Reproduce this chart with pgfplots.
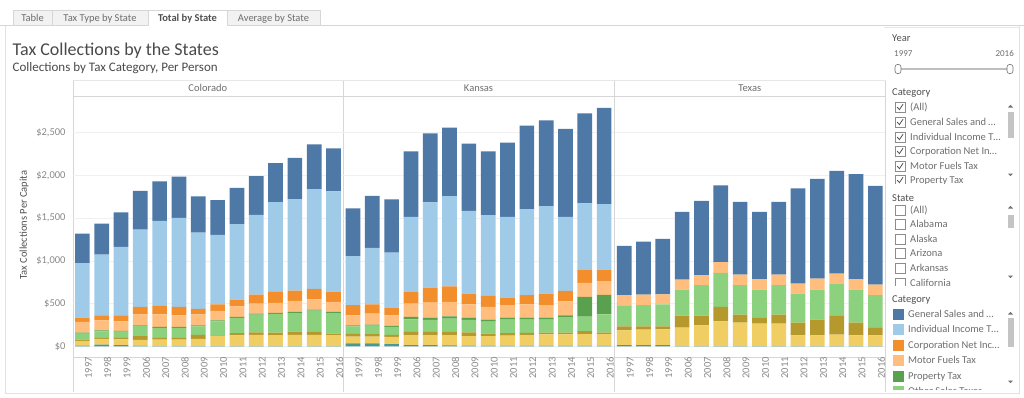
\documentclass[border=0pt]{standalone}
\usepackage{pgfplots}
\pgfplotsset{compat=1.18}
\usepackage{pgfplotstable}
\usepackage{fontspec}
\setmainfont{Carlito}
\definecolor{cBlue}{HTML}{4E79A7}
\definecolor{cLBlue}{HTML}{A0CBE8}
\definecolor{cOrange}{HTML}{F28E2B}
\definecolor{cLOrange}{HTML}{FFBE7D}
\definecolor{cGreen}{HTML}{59A14F}
\definecolor{cLGreen}{HTML}{8CD17D}
\definecolor{cOlive}{HTML}{B6992D}
\definecolor{cYellow}{HTML}{F1CE63}
\definecolor{cTeal}{HTML}{499894}
\definecolor{txt}{HTML}{6E6E6E}
\definecolor{ytxt}{HTML}{8A8A8A}
\definecolor{hdr}{HTML}{505050}
\definecolor{ttl}{HTML}{4A4A4A}
\definecolor{ln}{HTML}{D6D6D6}
\definecolor{tabbg}{HTML}{F2F2F2}
\definecolor{scroll}{HTML}{C4C4C4}

\pgfplotstableread{
yr teal yellow olive lgreen green lorange orange lblue blue
1997 8 55 15 72 10 125 51 637 347
1998 20 66 20 70 10 117 58 711 364
1999 15 65 20 72 8 113 70 801 403
2006 5 70 45 116 10 129 86 906 454
2007 3 75 28 110 11 148 98 996 461
2008 3 75 28 110 11 136 98 1043 481
2009 3 85 45 100 13 129 63 894 422
2010 3 115 10 165 12 109 78 813 406
2011 3 125 28 176 12 125 78 883 426
2012 3 130 30 208 12 117 106 933 454
2013 3 128 30 218 12 117 129 1051 457
2014 3 130 40 217 12 129 121 1071 484
2015 3 130 42 243 12 121 121 1168 524
2016 3 128 18 241 12 118 121 1172 504
}\co
\pgfplotstableread{
yr teal yellow olive lgreen green lorange orange lblue blue
1997 35 80 30 90 11 117 118 574 559
1998 35 80 28 100 11 129 109 661 609
1999 25 85 25 92 11 125 90 645 621
2006 15 115 40 145 29 156 133 883 766
2007 15 115 40 140 26 176 176 996 809
2008 10 120 45 150 27 168 183 1055 801
2009 8 110 45 148 25 156 125 969 786
2010 5 115 30 140 23 148 129 945 747
2011 4 120 30 160 22 145 89 946 867
2012 4 128 25 157 22 156 106 1008 977
2013 4 135 20 155 22 145 136 1024 1004
2014 4 135 20 182 22 164 122 867 1028
2015 4 140 35 170 229 164 149 781 1055
2016 4 140 15 215 228 160 137 765 1126
}\ks
\pgfplotstableread{
yr teal yellow olive lgreen green lorange orange lblue blue
1997 15 173 46 239 0 125 0 0 578
1998 15 180 39 247 0 125 0 0 621
1999 15 184 35 258 0 117 0 0 649
2006 3 216 140 305 0 117 0 0 794
2007 3 243 113 356 0 117 0 0 871
2008 3 290 168 399 0 125 0 0 898
2009 3 274 94 344 0 125 0 0 852
2010 3 263 74 324 0 121 0 0 790
2011 3 263 105 344 0 125 0 0 852
2012 3 126 148 340 0 117 0 0 1114
2013 3 126 184 351 0 129 0 0 1168
2014 3 134 226 364 0 125 0 0 1203
2015 3 126 148 387 0 121 0 0 1231
2016 3 126 86 383 0 125 0 0 1156
}\tx

\newcommand{\stackplots}[1]{%
  \addplot[fill=cTeal,draw=none] table[x expr=\coordindex,y=teal]{#1};
  \addplot[fill=cYellow,draw=none] table[x expr=\coordindex,y=yellow]{#1};
  \addplot[fill=cOlive,draw=none] table[x expr=\coordindex,y=olive]{#1};
  \addplot[fill=cLGreen,draw=none] table[x expr=\coordindex,y=lgreen]{#1};
  \addplot[fill=cGreen,draw=none] table[x expr=\coordindex,y=green]{#1};
  \addplot[fill=cLOrange,draw=none] table[x expr=\coordindex,y=lorange]{#1};
  \addplot[fill=cOrange,draw=none] table[x expr=\coordindex,y=orange]{#1};
  \addplot[fill=cLBlue,draw=none] table[x expr=\coordindex,y=lblue]{#1};
  \addplot[fill=cBlue,draw=none] table[x expr=\coordindex,y=blue]{#1};
}

\pgfplotsset{panel/.style={
  scale only axis, width=270.5pt, height=261pt, anchor=south west,
  ybar stacked, bar width=0.76,
  xmin=-0.5, xmax=13.5, ymin=-125, ymax=2930,
  axis line style={draw=none}, major tick length=0pt,
  xtick={0,...,13},
  xticklabels={1997,1998,1999,2006,2007,2008,2009,2010,2011,2012,2013,2014,2015,2016},
  xticklabel style={rotate=90, anchor=east, font=\fontsize{10.5}{11}\selectfont, text=ytxt, inner sep=0pt, yshift=-6pt},
  ytick={0,500,1000,1500,2000,2500},
  ymajorgrids, grid style={draw=black!6, line width=0.6pt},
}}

\newcommand{\chk}[2]{%
  \draw[draw=black!45, fill=white, line width=0.5pt] (895,#1-5) rectangle (905,#1+5);
  \ifnum#2=1 \draw[draw=black!70, line width=0.8pt] (897.2,#1+0.2) -- (899.4,#1+2.6) -- (903,#1-2.8);\fi
}
\newcommand{\scrollbar}[4]{% top, thumbtop, thumbbottom, bottom
  \fill[black!55] (1008,#1+1.5) -- (1010.5,#1-1.2) -- (1013,#1+1.5) -- cycle;
  \fill[scroll] (1007.5,#2) rectangle (1013.5,#3);
  \fill[black!55] (1008,#4-1.5) -- (1010.5,#4+1.2) -- (1013,#4-1.5) -- cycle;
}

\begin{document}
\begin{tikzpicture}[x=1pt,y=-1pt,font=\fontsize{10.5}{12}\selectfont]
\path[fill=white,use as bounding box] (0,0) rectangle (1024,397);

% tabs
\draw[ln] (0,25.5) -- (1024,25.5);
\filldraw[fill=tabbg, draw=ln] (13,10) rectangle (52,25.5);
\filldraw[fill=tabbg, draw=ln] (52,10) rectangle (148,25.5);
\filldraw[fill=tabbg, draw=ln] (227,10) rectangle (320,25.5);
\fill[white] (148,10) rectangle (227,26);
\draw[ln] (148,25.5) -- (148,10) -- (227,10) -- (227,25.5);
\node[anchor=base, inner sep=0, text=txt] at (32.5,21) {Table};
\node[anchor=base, inner sep=0, text=txt] at (100,21) {Tax Type by State};
\node[anchor=base, inner sep=0, text=hdr] at (187.5,21) {\textbf{Total by State}};
\node[anchor=base, inner sep=0, text=txt] at (273.5,21) {Average by State};

% frame
\draw[ln!70] (5,26) -- (5,393) -- (1019,393) -- (1019,26);

% titles
\node[anchor=base west, inner sep=0, text=ttl, font=\fontsize{18}{20}\selectfont] at (12.5,55) {Tax Collections by the States};
\node[anchor=base west, inner sep=0, text=ttl, font=\fontsize{13}{15}\selectfont] at (12.5,71.5) {Collections by Tax Category, Per Person};

% panel lines
\draw[ln] (72.7,80) -- (72.7,392);
\draw[ln] (342.9,80) -- (342.9,392);
\draw[ln] (614.1,80) -- (614.1,392);
\draw[ln] (885.5,80) -- (885.5,392);
\draw[ln!60] (72.7,80.5) -- (885.5,80.5);
\draw[ln] (72.7,96) -- (885.5,96);
\draw[ln] (72.7,357) -- (885.5,357);
\node[anchor=base, inner sep=0, text=txt] at (207.8,91.5) {Colorado};
\node[anchor=base, inner sep=0, text=txt] at (478.5,91.5) {Kansas};
\node[anchor=base, inner sep=0, text=txt] at (749.8,91.5) {Texas};
\node[rotate=90, text=hdr, inner sep=0] at (24,225) {Tax Collections Per Capita};

\begin{axis}[panel, at={(72.7pt,-357pt)},
  yticklabels={\$0,\$500,{\$1,000},{\$1,500},{\$2,000},{\$2,500}},
  yticklabel style={font=\fontsize{10.5}{12}\selectfont, text=ytxt, anchor=east, inner sep=0pt, xshift=-7pt}]
\stackplots{\co}
\end{axis}
\begin{axis}[panel, at={(343.3pt,-357pt)}, yticklabels={}]
\stackplots{\ks}
\end{axis}
\begin{axis}[panel, at={(614.5pt,-357pt)}, yticklabels={}]
\stackplots{\tx}
\end{axis}

% sidebar: year slider
\node[anchor=base west, inner sep=0, text=hdr] at (892,41.5) {Year};
\node[anchor=base west, inner sep=0, text=txt, font=\fontsize{9}{10}\selectfont] at (894,56) {1997};
\node[anchor=base east, inner sep=0, text=txt, font=\fontsize{9}{10}\selectfont] at (1014,56) {2016};
\draw[line width=2pt, draw=black!25] (899,69) -- (1009,69);
\filldraw[fill=white, draw=black!55, line width=0.6pt, rounded corners=2.5pt] (895,64.5) rectangle (901,73.5);
\filldraw[fill=white, draw=black!55, line width=0.6pt, rounded corners=2.5pt] (1007,64.5) rectangle (1013,73.5);

% category filter
\draw[ln!60] (884,27) -- (1019,27);
\node[anchor=base west, inner sep=0, text=hdr] at (892,95.5) {Category};
\begin{scope}
\clip (890,99) rectangle (1004,183);
\foreach \yy/\lab in {107/(All),122/General Sales and …,137/Individual Income T…,151/Corporation Net In…,166/Motor Fuels Tax,180/Property Tax} {
  \chk{\yy}{1}
  \node[anchor=base west, inner sep=0, text=txt] at (910,\yy+3.5) {\lab};
}
\end{scope}
\scrollbar{106}{112}{138}{175}

% state filter
\node[anchor=base west, inner sep=0, text=hdr] at (892,201.5) {State};
\begin{scope}
\clip (890,203) rectangle (1004,285);
\foreach \yy/\lab in {210/(All),224/Alabama,239/Alaska,253/Arizona,268/Arkansas,283/California} {
  \chk{\yy}{0}
  \node[anchor=base west, inner sep=0, text=txt] at (910,\yy+3.5) {\lab};
}
\end{scope}
\scrollbar{207}{215}{228}{277}

% legend
\node[anchor=base west, inner sep=0, text=hdr] at (892,302.5) {Category};
\begin{scope}
\clip (890,306) rectangle (1004,389);
\foreach \yy/\cc/\lab in {314/cBlue/General Sales and …,329/cLBlue/Individual Income T…,345/cOrange/Corporation Net Inc…,360/cLOrange/Motor Fuels Tax,376/cGreen/Property Tax,391/cLGreen/Other Sales Taxes} {
  \fill[\cc] (893,\yy-5.5) rectangle (904,\yy+5.5);
  \node[anchor=base west, inner sep=0, text=txt] at (908,\yy+3.5) {\lab};
}
\end{scope}
\scrollbar{313}{318}{347}{382}
\end{tikzpicture}
\end{document}
